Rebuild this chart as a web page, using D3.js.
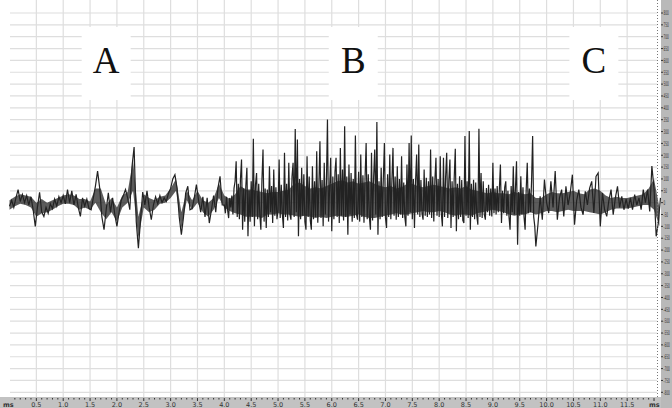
<!DOCTYPE html>
<html>
<head>
<meta charset="utf-8">
<script src="https://cdn.jsdelivr.net/npm/d3@7"></script>
<style>
  body { margin: 0; background: #fff; }
  svg { display: block; }
</style>
</head>
<body>
<div class="render"></div>
<script>
// slow sampling of the whole trace, every 40 ms, microvolts
var sampleStep = 0.04;
var trace = [
  -15,10,-20,20,55,5,35,0,30,-10,
  25,-30,-100,-20,44,-40,-58,-20,-45,-5,
  -25,15,-15,25,0,30,-5,55,0,50,
  -10,35,-20,-58,20,-15,15,-25,-30,20,
  70,133,60,-60,-114,-30,41,-40,20,-50,
  -100,-40,10,30,55,20,-30,150,235,-80,
  -192,-72,45,-10,50,-20,-72,-10,25,-5,
  30,0,20,5,40,60,100,118,60,-60,
  -135,-60,40,69,-30,-25,20,76,10,-40,
  25,-60,20,-86,-30,30,-40,60,111,-10,
  41,
  -20,50,-65,30,-40,175,-60,182,-114,147,
  -142,60,-80,269,-100,125,-114,224,-107,80,
  154,-50,140,-86,182,-40,90,210,-107,168,
  -72,168,311,266,-142,147,-60,196,-114,100,
  154,-114,217,-50,259,-100,168,351,-80,189,
  -121,189,-86,231,-40,322,-135,161,-60,120,
  283,-72,90,203,-50,252,-80,210,-114,224,
  340,-135,147,252,-60,-107,203,-40,231,-72,
  154,196,-50,80,-100,252,283,-107,203,-40,
  245,-60,140,-72,110,224,-79,189,-50,196,
  -60,189,-100,210,-70,
  -107,227,-121,60,111,-86,281,-50,302,-114,
  97,-40,-93,312,125,-72,62,-30,80,168,
  -58,60,161,-86,40,90,-60,-114,154,20,
  175,-178,111,-40,-114,168,-30,100,281,-185,
  -90,27,-72,97,0,-44,90,-20,133,-72,
  20,55,-58,69,-10,40,118,-93,10,55,
  -20,-51,48,-10,60,90,-44,111,125,-100,
  41,-30,-58,10,55,-51,20,69,-20,27,
  -30,15,-25,20,-30,34,-10,20,-30,55,
  0,55,-37,154,60,-142,-86,20
];

// burst B read at 20 ms, from 4.00 s to 9.78 s
var burstStart = 4.0, burstStep = 0.02;
var burst = [
  -10,-45,25,-30,-65,20,-20,30,-50,60,
  90,175,-60,80,-70,100,182,-114,60,-80,
  70,147,-142,50,-80,90,-60,269,-100,75,
  125,-70,80,-50,-114,95,224,-80,60,-107,
  55,-60,154,-40,70,-86,140,-55,65,-70,
  -30,182,-65,75,-50,-107,210,-60,80,-75,
  168,-50,-72,110,168,-60,311,-40,266,-142,
  100,-70,147,-55,120,-80,-114,196,-60,110,
  -75,-114,154,-70,90,-60,217,-85,70,259,
  -65,95,-100,168,-50,80,351,-80,60,189,
  -121,110,-70,130,189,-60,120,-86,231,-55,
  140,-75,322,-60,110,-135,161,-50,125,-80,
  100,-65,283,-50,-72,130,-80,203,-60,115,
  -85,105,252,-70,120,-60,-114,210,-75,110,
  224,-50,340,-135,90,-70,147,-60,100,252,
  -65,-107,120,-60,203,-70,95,231,-55,110,
  -72,154,-60,100,-50,196,-65,85,-60,-100,
  161,-55,252,-40,283,-70,100,-107,90,203,
  -50,245,-60,95,-45,-72,140,-55,105,-60,
  90,-50,224,-65,110,-79,95,189,-55,100,
  -60,196,-45,-100,189,-60,110,210,-65,95,
  182,-107,90,-60,105,227,-121,80,-70,111,
  -60,95,-75,-86,281,-55,90,-65,302,-114,
  80,-60,97,-70,85,-55,-93,312,-60,125,
  -65,90,-50,-72,62,-40,75,-55,60,-58,
  168,-45,60,-50,70,-40,55,161,-86,50,
  -45,65,90,-55,50,-60,-114,70,-40,154,
  -50,60,175,-178,45,-55,111,-50,65,-60,
  -114,55,168,-45,60,-40,90,281,-60,-100
];

// solid core of the trace, every 100 ms
var bandStep = 0.1;
var bandLow = [
  -30,-15,-5,-10,-20,-60,-45,-40,-30,-15,
  -5,-5,-10,-30,-20,-30,0,-40,-70,-40,
  -80,-20,0,50,-150,-20,-40,-30,-5,0,
  20,50,-110,10,-30,0,-40,-60,-30,20,
  -20,-35,-45,-50,-60,-60,-60,-65,-50,-50,
  -45,-50,-50,-55,-60,-55,-60,-65,-60,-65,
  -60,-55,-60,-60,-55,-50,-60,-65,-65,-60,
  -55,-50,-45,-50,-50,-45,-40,-35,-40,-40,
  -35,-40,-50,-55,-50,-50,-55,-45,-40,-35,
  -30,-35,-40,-50,-55,-50,-50,-40,-50,-45,
  -35,-35,-40,-35,-30,-35,-35,-35,-40,-45,
  -50,-40,-30,-25,-25,-25,-20,-15,-10,-10,
  -30,-100
];
var bandHigh = [
  10,25,35,30,25,0,15,0,10,20,
  30,35,30,15,15,5,60,60,-10,20,
  -20,30,45,180,-60,35,20,10,25,30,
  60,100,-40,50,10,50,10,0,20,80,
  30,15,35,70,55,55,50,45,40,45,
  45,50,55,80,85,70,60,65,60,70,
  80,90,95,85,90,80,85,90,80,70,
  65,70,60,65,80,80,70,65,70,75,
  70,65,60,65,60,70,55,50,45,40,
  45,40,40,35,45,40,35,40,20,20,
  35,45,40,40,45,50,40,35,55,60,
  50,30,20,25,20,20,25,30,35,60,
  100,-20
];

var regionNames = ["A", "B", "C"];
var regionCentres = [1.8, 6.4, 10.88];   // seconds

var xTickLabels = ["0.5","1.0","1.5","2.0","2.5","3.0","3.5","4.0","4.5","5.0","5.5","6.0",
                   "6.5","7.0","7.5","8.0","8.5","9.0","9.5","10.0","10.5","11.0","11.5"];
var yTickLabels = [800,750,700,650,600,550,500,450,400,350,300,250,200,150,100,50,0,
                   -50,-100,-150,-200,-250,-300,-350,-400,-450,-500,-550,-600,-650,-700,-750,-800];

var W = 672, H = 408;
var plotRight = 657, stripX = 661, stripY = 397;

var x = d3.scaleLinear().domain([0, 12.13]).range([9.5, 661]);
var y = d3.scaleLinear().domain([-800, 800]).range([392.3, 13]);

// one table of (time, value): slow samples outside the burst, fast ones inside
var burstEnd = burstStart + (burst.length - 1) * burstStep;
var samples = [];
trace.forEach(function(v, i) {
    var t = i * sampleStep;
    if (t < burstStart - 1e-6) samples.push({t: t, v: v});
});
burst.forEach(function(v, j) { samples.push({t: burstStart + j * burstStep, v: v}); });
trace.forEach(function(v, i) {
    var t = i * sampleStep;
    if (t > burstEnd + 1e-6) samples.push({t: t, v: v});
});

var svg = d3.select(".render").append("svg")
    .attr("width", W)
    .attr("height", H);

svg.append("rect")
    .attr("width", W).attr("height", H)
    .attr("fill", "#fff");

// grid
var grid = svg.append("g").attr("stroke", "#dedede").attr("stroke-width", 1.2);
grid.selectAll(".hl").data(yTickLabels).enter().append("line")
    .attr("class", "hl")
    .attr("x1", 10).attr("x2", plotRight)
    .attr("y1", function(d) { return y(d); })
    .attr("y2", function(d) { return y(d); });
grid.selectAll(".vl").data(xTickLabels).enter().append("line")
    .attr("class", "vl")
    .attr("x1", function(d) { return x(+d); })
    .attr("x2", function(d) { return x(+d); })
    .attr("y1", 0).attr("y2", stripY);

// white patches behind the region letters
var regions = svg.selectAll(".region").data(regionNames).enter().append("g")
    .attr("class", "region")
    .attr("transform", function(d, i) { return "translate(" + x(regionCentres[i]) + ",0)"; });
regions.append("rect")
    .attr("x", -24.5).attr("y", 27)
    .attr("width", 49).attr("height", 73)
    .attr("fill", "#fff");
regions.append("text")
    .attr("x", 0).attr("y", 73)
    .attr("text-anchor", "middle")
    .attr("font-family", "'Liberation Serif', 'DejaVu Serif', serif")
    .attr("font-size", 37)
    .attr("fill", "#111")
    .text(function(d) { return d; });

// solid core of the trace
var band = d3.area()
    .x(function(d, i) { return x(i * bandStep); })
    .y0(function(d, i) { return y(bandLow[i]); })
    .y1(function(d) { return y(d); });
svg.append("path")
    .datum(bandHigh)
    .attr("d", band)
    .attr("fill", "#262626")
    .attr("fill-opacity", 0.75);

// the trace
var line = d3.line()
    .x(function(d) { return x(d.t); })
    .y(function(d) { return y(d.v); });
svg.append("path")
    .datum(samples)
    .attr("d", line)
    .attr("fill", "none")
    .attr("stroke", "#222")
    .attr("stroke-width", 1.2);

// cursor line
svg.append("line")
    .attr("x1", plotRight + 0.5).attr("x2", plotRight + 0.5)
    .attr("y1", 0).attr("y2", stripY)
    .attr("stroke", "#777")
    .attr("stroke-dasharray", "1,2");

// bottom axis strip
svg.append("rect")
    .attr("x", 0).attr("y", stripY)
    .attr("width", stripX).attr("height", H - stripY)
    .attr("fill", "#c2c2c2");
var minor = d3.range(1, 121).map(function(k) { return k / 10; });
svg.selectAll(".mt").data(minor).enter().append("line")
    .attr("class", "mt")
    .attr("x1", function(d) { return x(d); })
    .attr("x2", function(d) { return x(d); })
    .attr("y1", stripY + 1)
    .attr("y2", function(d, i) { return (i + 1) % 5 === 0 ? stripY + 4 : stripY + 2.5; })
    .attr("stroke", "#333").attr("stroke-width", 1);
svg.selectAll(".xl").data(xTickLabels).enter().append("text")
    .attr("class", "xl")
    .attr("x", function(d) { return x(+d); })
    .attr("y", H - 1)
    .attr("text-anchor", "middle")
    .attr("font-family", "'DejaVu Sans', sans-serif")
    .attr("font-size", 6.5)
    .attr("fill", "#333")
    .text(function(d) { return d; });
svg.append("text")
    .attr("x", 3).attr("y", H - 1)
    .attr("font-family", "'DejaVu Sans', sans-serif")
    .attr("font-size", 6.5).attr("font-weight", "bold")
    .attr("fill", "#333")
    .text("ms");
svg.append("text")
    .attr("x", 649).attr("y", H - 1)
    .attr("font-family", "'DejaVu Sans', sans-serif")
    .attr("font-size", 6.5).attr("font-weight", "bold")
    .attr("fill", "#333")
    .text("ms");

// right axis strip
svg.append("rect")
    .attr("x", stripX).attr("y", 0)
    .attr("width", W - stripX).attr("height", H)
    .attr("fill", "#b9b9b9");
svg.selectAll(".yt").data(yTickLabels).enter().append("line")
    .attr("class", "yt")
    .attr("x1", stripX).attr("x2", stripX + 2)
    .attr("y1", function(d) { return y(d); })
    .attr("y2", function(d) { return y(d); })
    .attr("stroke", "#333");
// labels squeezed horizontally so they fit inside the narrow strip
svg.selectAll(".yl").data(yTickLabels).enter().append("g")
    .attr("class", "yl")
    .attr("transform", function(d) { return "translate(" + (stripX + 2.5) + "," + y(d) + ") scale(0.42,1)"; })
  .append("text")
    .attr("dy", "0.35em")
    .attr("font-family", "'DejaVu Sans', sans-serif")
    .attr("font-size", 6.5)
    .attr("fill", "#333")
    .text(function(d) { return d; });
</script>
</body>
</html>
